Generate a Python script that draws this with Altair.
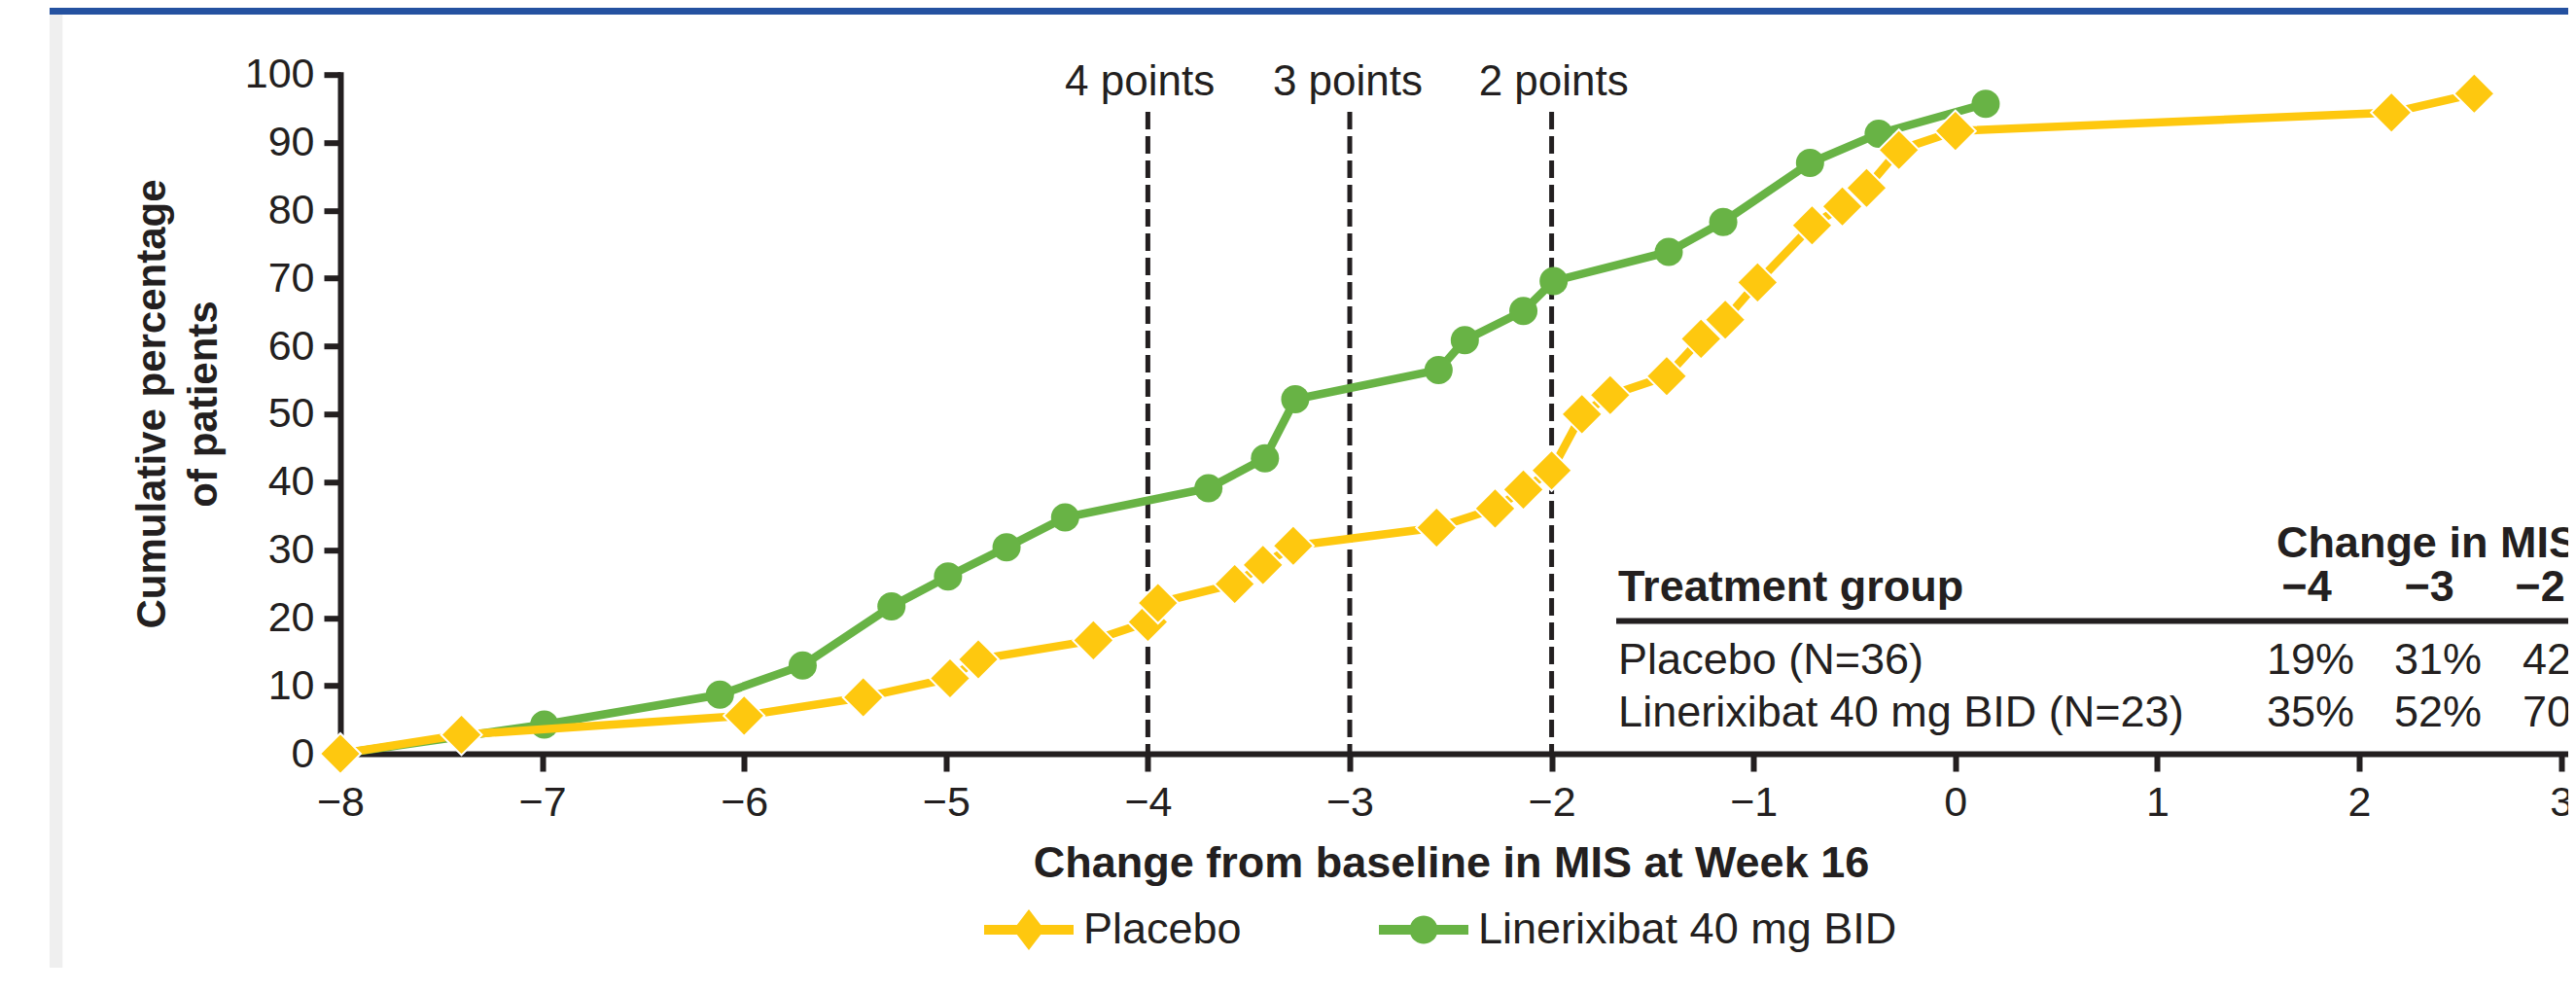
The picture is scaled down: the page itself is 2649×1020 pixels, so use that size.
import altair as alt
import pandas as pd

# ---------------- data ----------------
series_names = ["Placebo", "Linerixibat 40 mg BID"]

placebo_x = [-8, -7.4, -6.0, -5.41, -4.98, -4.84, -4.27, -4.0, -3.95, -3.57, -3.43, -3.28,
             -2.57, -2.28, -2.14, -2.0, -1.85, -1.71, -1.43, -1.26, -1.14, -0.98, -0.71,
             -0.56, -0.44, -0.28, 0.0, 2.16, 2.57]
placebo_y = [0, 2.8, 5.6, 8.3, 11.1, 13.9, 16.7, 19.4, 22.2, 25.0, 27.8, 30.6,
             33.3, 36.1, 38.9, 41.7, 50.0, 52.8, 55.6, 61.1, 63.9, 69.4, 77.8,
             80.6, 83.3, 88.9, 91.7, 94.4, 97.2]

lin_x = [-8, -6.99, -6.12, -5.71, -5.27, -4.99, -4.70, -4.41, -3.70, -3.42, -3.27,
         -2.56, -2.43, -2.14, -1.99, -1.42, -1.15, -0.72, -0.38, 0.15]
lin_y = [0, 4.3, 8.7, 13.0, 21.7, 26.1, 30.4, 34.8, 39.1, 43.5, 52.2,
         56.5, 60.9, 65.2, 69.6, 73.9, 78.3, 87.0, 91.3, 95.7]

ref_x = [-4, -3, -2]
ref_top = 94.5
ref_labels = ["4 points", "3 points", "2 points"]
ref_label_x = [-4.04, -3.01, -1.99]
ref_label_y = 96.9

# inset table
table_title = "Change in MIS"
table_title_x = 1.59
table_title_y = 28.9
header_left = "Treatment group"
col_headers = ["\u22124", "\u22123", "\u22122"]
col_header_x = [1.740, 2.347, 2.896]
header_y = 22.44
group_labels = ["Placebo (N=36)", "Linerixibat 40 mg BID (N=23)"]
row_y = [11.74, 4.01]
left_x = -1.67
placebo_pct = ["19%", "31%", "42%"]
lin_pct = ["35%", "52%", "70%"]
col_value_x = [1.759, 2.390, 3.026]
table_rule_x = [-1.68, 3.6]
table_rule_y = 19.55

x_ticks = list(range(-8, 4))
y_ticks = list(range(0, 101, 10))

# ---------------- style ----------------
YELLOW = "#FEC80F"
GREEN = "#68B345"
DARK = "#231F20"
FONT = "Liberation Sans"
PLOT_W = 2291
XMAX = -8 + PLOT_W / 207.6
PLOT_H = 698.3

x_axis = alt.Axis(
    values=x_ticks, format="d", grid=False,
    domainColor=DARK, domainWidth=6, domainCap="square",
    tickColor=DARK, tickWidth=6, tickSize=18,
    labelFont=FONT, labelFontSize=43, labelColor=DARK, labelPadding=11,
    labelFlush=False, labelOverlap=False,
    title="Change from baseline in MIS at Week 16",
    titleFont=FONT, titleFontSize=45, titleFontWeight="bold", titleColor=DARK,
    titleX=1142, titleY=126.7, titleAlign="center", titleBaseline="alphabetic",
)
y_axis = alt.Axis(
    values=y_ticks, format="d", grid=False,
    domainColor=DARK, domainWidth=6, domainCap="square",
    tickColor=DARK, tickWidth=6, tickSize=17,
    labelFont=FONT, labelFontSize=43, labelColor=DARK, labelPadding=10,
    labelOverlap=False,
    title=["Cumulative percentage", "of patients"],
    titleFont=FONT, titleFontSize=42, titleFontWeight="bold", titleColor=DARK,
    titleAngle=270, titleX=-181, titleY=338.3, titleAlign="center",
    titleBaseline="alphabetic", titleLineHeight=53,
)

xenc = alt.X("x:Q", scale=alt.Scale(domain=[-8, XMAX], nice=False, zero=False), axis=x_axis)
yenc = alt.Y("y:Q", scale=alt.Scale(domain=[0, 100], nice=False, zero=False), axis=y_axis)

# ---------------- frames ----------------
pl_df = pd.DataFrame({"x": placebo_x, "y": placebo_y, "i": range(len(placebo_x))})
ln_df = pd.DataFrame({"x": lin_x, "y": lin_y, "i": range(len(lin_x))})
ref_df = pd.DataFrame({"x": ref_x, "y": [ref_top] * 3, "y2": [0] * 3})
ref_lab_df = pd.DataFrame({"x": ref_label_x, "y": [ref_label_y] * 3, "t": ref_labels})

bold_left = pd.DataFrame({"x": [left_x, table_title_x], "y": [header_y, table_title_y],
                          "t": [header_left, table_title]})
bold_center = pd.DataFrame({"x": col_header_x, "y": [header_y] * 3, "t": col_headers})
reg_left = pd.DataFrame({"x": [left_x] * 2, "y": row_y, "t": group_labels})
reg_center = pd.DataFrame({"x": col_value_x * 2, "y": [row_y[0]] * 3 + [row_y[1]] * 3,
                           "t": placebo_pct + lin_pct})
rule_df = pd.DataFrame({"x": [table_rule_x[0]], "x2": [table_rule_x[1]], "y": [table_rule_y]})
legend_df = pd.DataFrame({"x": [0, 0], "y": [0, 0], "s": series_names})

# ---------------- layers ----------------
deco = alt.Chart(alt.Data(values=[{"k": 1}]))
blue_bar = deco.mark_rect(color="#2451A0").encode(
    x=alt.value(-299), x2=alt.value(2400), y=alt.value(-80), y2=alt.value(-61.7))
gray_strip = deco.mark_rect(color="#EFEFEF").encode(
    x=alt.value(-299), x2=alt.value(-285.7), y=alt.value(-61.7), y2=alt.value(1000))

ref_rules = alt.Chart(ref_df).mark_rule(color=DARK, strokeWidth=5, strokeDash=[18, 7]).encode(
    x=xenc, y=yenc, y2="y2:Q")
ref_text = alt.Chart(ref_lab_df).mark_text(
    font=FONT, fontSize=44, color=DARK, align="center", baseline="alphabetic").encode(
    x=xenc, y=yenc, text="t:N")

ln_line = alt.Chart(ln_df).mark_line(color=GREEN, strokeWidth=8.5).encode(
    x=xenc, y=yenc, order="i:Q")
ln_pts = alt.Chart(ln_df).mark_circle(color=GREEN, size=841, opacity=1).encode(x=xenc, y=yenc)
pl_line = alt.Chart(pl_df).mark_line(color=YELLOW, strokeWidth=8.5).encode(
    x=xenc, y=yenc, order="i:Q")
pl_pts = alt.Chart(pl_df).mark_point(
    shape="diamond", filled=True, fill=YELLOW, stroke="white", strokeWidth=2,
    size=1764, opacity=1).encode(x=xenc, y=yenc)

t_bold_l = alt.Chart(bold_left).mark_text(
    font=FONT, fontSize=45, fontWeight="bold", color=DARK, align="left", baseline="alphabetic"
).encode(x=xenc, y=yenc, text="t:N")
t_bold_c = alt.Chart(bold_center).mark_text(
    font=FONT, fontSize=45, fontWeight="bold", color=DARK, align="center", baseline="alphabetic"
).encode(x=xenc, y=yenc, text="t:N")
t_reg_l = alt.Chart(reg_left).mark_text(
    font=FONT, fontSize=45, color=DARK, align="left", baseline="alphabetic"
).encode(x=xenc, y=yenc, text="t:N")
t_reg_c = alt.Chart(reg_center).mark_text(
    font=FONT, fontSize=45, color=DARK, align="center", baseline="alphabetic"
).encode(x=xenc, y=yenc, text="t:N")
t_rule = alt.Chart(rule_df).mark_rule(color=DARK, strokeWidth=6).encode(
    x=xenc, x2="x2:Q", y=yenc)

# legend (symbol = line + marker)
DIAMOND_SYM = ("M-1,-0.109 L-0.265,-0.109 L0,-0.457 L0.265,-0.109 L1,-0.109 L1,0.109 "
               "L0.265,0.109 L0,0.457 L-0.265,0.109 L-1,0.109 Z")
CIRCLE_SYM = ("M-1,-0.109 L-0.2955,-0.109 A0.315,0.315 0 0 1 0.2955,-0.109 L1,-0.109 "
              "L1,0.109 L0.2955,0.109 A0.315,0.315 0 0 1 -0.2955,0.109 L-1,0.109 Z")
leg = alt.Legend(
    orient="none", legendX=662, legendY=833.3, direction="horizontal", title=None,
    symbolSize=8464, symbolStrokeWidth=0, symbolOpacity=1,
    labelFont=FONT, labelFontSize=45, labelColor=DARK, labelOffset=10, labelLimit=1000,
    columnPadding=141, padding=0,
)
legend_layer = alt.Chart(legend_df).transform_filter("false").mark_point(
    filled=True, size=8464, opacity=1).encode(
    x=xenc, y=yenc,
    color=alt.Color("s:N", scale=alt.Scale(domain=series_names, range=[YELLOW, GREEN]), legend=leg),
    shape=alt.Shape("s:N", scale=alt.Scale(domain=series_names, range=[DIAMOND_SYM, CIRCLE_SYM]),
                    legend=leg),
)

chart = alt.layer(
    blue_bar, gray_strip, ref_rules, ref_text,
    ln_line, ln_pts, pl_line, pl_pts,
    t_bold_l, t_bold_c, t_reg_l, t_reg_c, t_rule, legend_layer,
).properties(
    width=PLOT_W, height=PLOT_H,
    autosize=alt.AutoSizeParams(type="none"),
    padding={"left": 342, "top": 68.7, "right": 0, "bottom": 220},
    background="white",
).configure_view(stroke="transparent")

chart.save("out.html", embed_options={"renderer": "svg", "actions": False})
